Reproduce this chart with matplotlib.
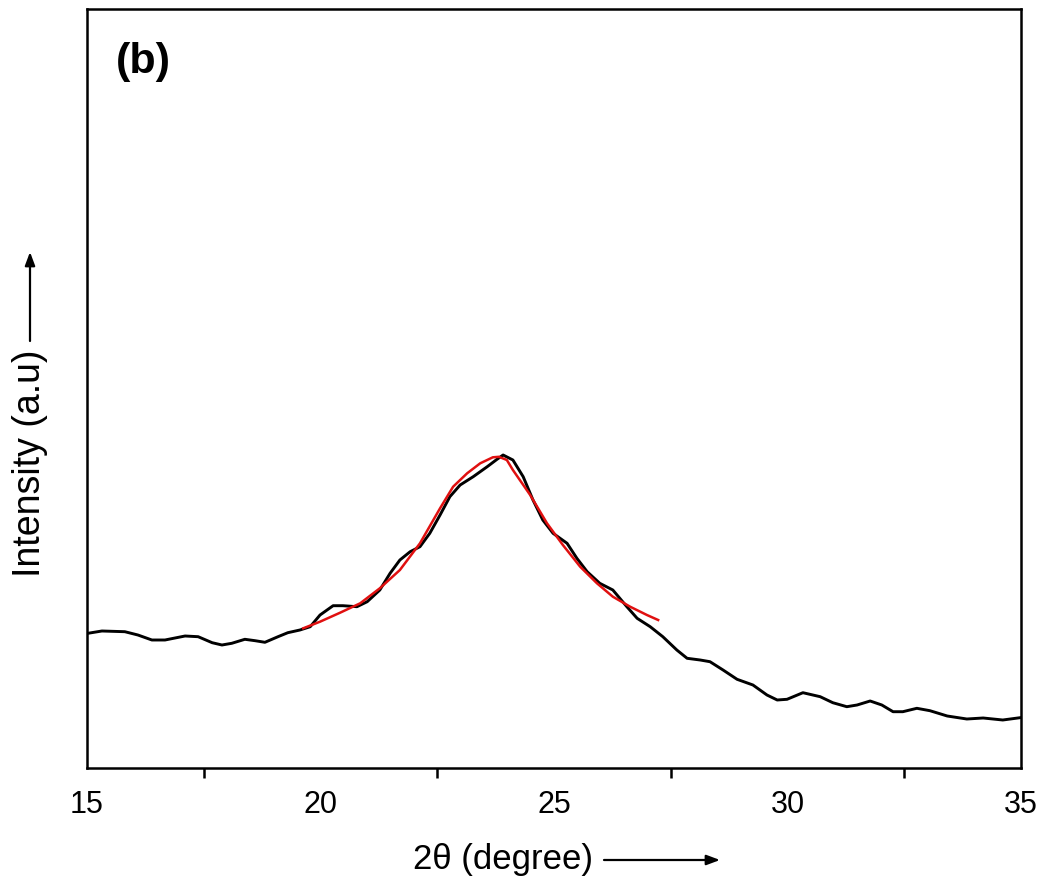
import matplotlib
matplotlib.use("Agg")
import matplotlib.pyplot as plt
from matplotlib.patches import FancyArrowPatch
from matplotlib.ticker import FixedLocator, NullFormatter

plt.rcParams['font.family'] = ['Liberation Sans', 'DejaVu Sans']

# XRD pattern (black)
two_theta = [15.02, 15.32, 15.81, 16.09, 16.39, 16.67, 17.10, 17.38, 17.68, 17.89,
             18.10, 18.38, 18.60, 18.81, 19.09, 19.30, 19.56, 19.78, 19.99, 20.27,
             20.48, 20.78, 21.00, 21.27, 21.49, 21.70, 21.92, 22.13, 22.34, 22.56,
             22.77, 22.99, 23.27, 23.57, 23.78, 23.91, 24.12, 24.34, 24.55, 24.76,
             24.98, 25.28, 25.49, 25.71, 25.98, 26.26, 26.56, 26.78, 27.06, 27.33,
             27.63, 27.85, 28.13, 28.34, 28.62, 28.92, 29.26, 29.56, 29.78, 29.99,
             30.33, 30.70, 30.97, 31.27, 31.49, 31.77, 32.02, 32.26, 32.47, 32.77,
             33.05, 33.42, 33.84, 34.19, 34.61, 34.98]
intensity = [134.7, 137.0, 136.3, 133.0, 128.0, 128.0, 132.0, 131.3, 125.3, 123.0,
             124.7, 128.7, 127.3, 125.7, 131.3, 135.3, 138.0, 141.3, 153.0, 162.3,
             162.3, 161.3, 166.3, 178.0, 194.7, 208.0, 216.3, 221.3, 234.7, 253.0,
             271.3, 283.0, 291.3, 301.3, 308.7, 313.0, 308.0, 291.3, 268.0, 248.0,
             234.7, 224.7, 209.7, 196.3, 184.7, 178.0, 161.3, 149.7, 141.3, 131.3,
             118.0, 109.7, 108.0, 106.3, 98.0, 88.7, 83.0, 73.0, 68.0, 68.7,
             75.3, 71.3, 65.3, 61.3, 63.0, 67.0, 63.0, 56.3, 56.3, 59.7,
             57.3, 52.0, 49.0, 50.0, 48.0, 50.3]

# Fitted peak (red)
fit_theta = [19.63, 19.99, 20.42, 20.85, 21.27, 21.70, 22.13, 22.56, 22.84, 23.14,
             23.42, 23.69, 23.82, 23.99, 24.12, 24.49, 24.85, 25.19, 25.56, 25.92,
             26.26, 26.63, 26.99, 27.23]
fit_int = [139.7, 146.3, 155.3, 164.7, 179.7, 198.0, 224.7, 259.7, 281.3, 294.7,
           304.7, 310.7, 311.2, 308.0, 298.0, 273.0, 244.7, 223.0, 201.3, 184.7,
           171.3, 161.3, 153.0, 148.0]

tick_vals = [15, 20, 25, 30, 35]
minor_ticks = [17.5, 22.5, 27.5, 32.5]

fig = plt.figure(figsize=(10.45, 8.91), dpi=100)
ax = fig.add_axes([87/1045, 1-768/891, (1021-87)/1045, (768-9)/891])

ax.plot(two_theta, intensity, color='black', lw=2.1, solid_joinstyle='round')
ax.plot(fit_theta, fit_int, color='#e01010', lw=1.8, solid_joinstyle='round')

ax.set_xlim(15, 35)
ax.set_ylim(0, 759)
ax.set_yticks([])
ax.xaxis.set_major_locator(FixedLocator(tick_vals))
ax.xaxis.set_minor_locator(FixedLocator(minor_ticks))
ax.xaxis.set_minor_formatter(NullFormatter())
ax.tick_params(axis='x', which='major', length=0, labelsize=22, pad=16)
ax.tick_params(axis='x', which='minor', length=7, width=1.8, direction='out')
for s in ax.spines.values():
    s.set_linewidth(1.8)

fig.text(116/1045, 1-62/891, '(b)', fontsize=31, fontweight='bold',
         va='center', ha='left')

fig.text(503/1045, 1-859/891, '2\u03b8 (degree)', fontsize=25, ha='center', va='center')
fig.text(30/1045, 1-463/891, 'Intensity (a.u)', fontsize=27, ha='center', va='center',
         rotation=90)

fig.add_artist(FancyArrowPatch(
    (604/1045, 1-860/891), (720/1045, 1-860/891), transform=fig.transFigure,
    arrowstyle='-|>,head_length=8,head_width=3', color='black', lw=1.6,
    shrinkA=0, shrinkB=0))
fig.add_artist(FancyArrowPatch(
    (30/1045, 1-341/891), (30/1045, 1-252/891), transform=fig.transFigure,
    arrowstyle='-|>,head_length=8,head_width=3', color='black', lw=1.6,
    shrinkA=0, shrinkB=0))

fig.savefig('out.png', dpi=100)
